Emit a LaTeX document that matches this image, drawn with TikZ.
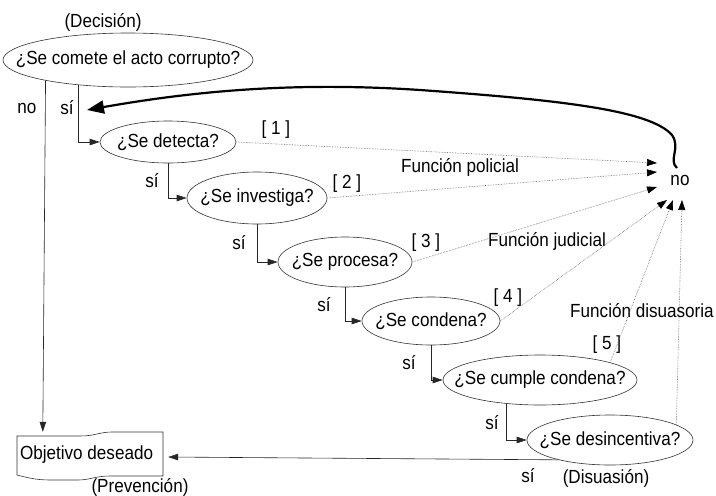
\documentclass[tikz,border=0pt]{standalone}
\usepackage{fontspec}
\setmainfont[FakeStretch=0.9]{Liberation Sans}
\usetikzlibrary{arrows.meta,shapes.geometric,calc}
\begin{document}
\begin{tikzpicture}[x=1pt,y=-1pt,
  every node/.style={font=\fontsize{19}{22}\selectfont, inner sep=1pt},
  qe/.style={ellipse, draw=black!80, line width=0.6pt, inner sep=0pt},
  conn/.style={draw=black!85, line width=0.6pt, -{Triangle[length=10pt,width=6.5pt]}},
  dotarr/.style={draw=black!60, densely dotted, line width=0.6pt, -{Triangle[length=10pt,width=7pt,color=black]}},
  bigarr/.style={line width=2.2pt, -{Triangle[length=17pt,width=13pt]}},
  docline/.style={draw=black!80, line width=0.6pt}
]
\useasboundingbox (0,0) rectangle (716,496);

% decision ellipses
\node[qe, minimum width=250pt, minimum height=54pt] (e1) at (128,60) {\makebox[0pt]{¿Se comete el acto corrupto?}};
\node[qe, minimum width=136pt, minimum height=42pt] (e2) at (168,142) {\makebox[0pt]{¿Se detecta?}};
\node[qe, minimum width=140pt, minimum height=52pt] (e3) at (257,198) {\makebox[0pt]{¿Se investiga?}};
\node[qe, minimum width=134pt, minimum height=50pt] (e4) at (345,262) {\makebox[0pt]{¿Se procesa?}};
\node[qe, minimum width=138pt, minimum height=48pt] (e5) at (431,321) {\makebox[0pt]{¿Se condena?}};
\node[qe, minimum width=194pt, minimum height=50pt] (e6) at (540,380) {\makebox[0pt]{¿Se cumple condena?}};
\node[qe, minimum width=166pt, minimum height=50pt] (e7) at (610,440) {\makebox[0pt]{¿Se desincentiva?}};

% target
\node[inner xsep=3pt, inner ysep=0pt, minimum height=44pt] (obj) at (90,455) {\makebox[140pt][l]{Objetivo deseado}};
\draw[docline] (17,436) -- (17,475) .. controls (25,477) and (35,480) .. (50,480) -- (78,480)
  .. controls (90,480) and (95,476) .. (110,476) -- (163,476) -- (163,432) -- (112,432)
  .. controls (100,432) and (95,436) .. (80,436) -- cycle;

\node (no) at (680,180) {no};

% labels
\node (dec) at (103,22) {(Decisión)};
\node (no1) at (27,108) {no};
\node (si1) at (67,108) {sí};
\node (b1) at (276,130) {[ 1 ]};
\node (b2) at (347,184) {[ 2 ]};
\node (b3) at (426,243) {[ 3 ]};
\node (b4) at (508,298) {[ 4 ]};
\node (b5) at (607,345) {[ 5 ]};
\node (fp) at (460,167) {Función policial};
\node (fj) at (547,241) {Función judicial};
\node (fd) at (642,311) {Función disuasoria};
\node (s2) at (152,181) {sí};
\node (s3) at (239,243) {sí};
\node (s4) at (324,305) {sí};
\node (s5) at (409,363) {sí};
\node (s6) at (492,423) {sí};
\node (s7) at (528,476) {sí};
\node (dis) at (606,478) {(Disuasión)};
\node (prev) at (140,487) {(Prevención)};

% yes-chain connectors
\draw[conn] (e1.207.5) |- (e2.west);
\draw[conn] (e2.south) |- (e3.west);
\draw[conn] (e3.south) |- (e4.west);
\draw[conn] (e4.south) |- (e5.west);
\draw[conn] (e5.south) |- (e6.west);
\draw[conn] (e6.215.5) |- (e7.west);
\draw[conn] (e7.201) -- ($(obj.east)+(5,2)$);
\draw[conn] (e1.194.5) -- ($(obj.north west)+(26,-1)$);

% dotted "no" arrows
\draw[dotarr] (e2.east) -- ($(no.center)+(-23,-17)$);
\draw[dotarr] (e3.east) -- ($(no.center)+(-23,-8)$);
\draw[dotarr] (e4.east) -- ($(no.center)+(-23,7)$);
\draw[dotarr] (e5.east) -- ($(no.center)+(-13,20)$);
\draw[dotarr] (e6.14) -- ($(no.center)+(-7,20)$);
\draw[dotarr] (e7.13) -- ($(no.center)+(2,20)$);

% big feedback arrow
\coordinate (back) at (87,110);
\draw[bigarr] ($(no.center)+(-3,-12)$) .. controls (668,160) and (681,148) .. (672,135)
  .. controls (650,110) and (560,100) .. (420,90)
  .. controls (300,82) and (200,90) .. (back);
\end{tikzpicture}
\end{document}
